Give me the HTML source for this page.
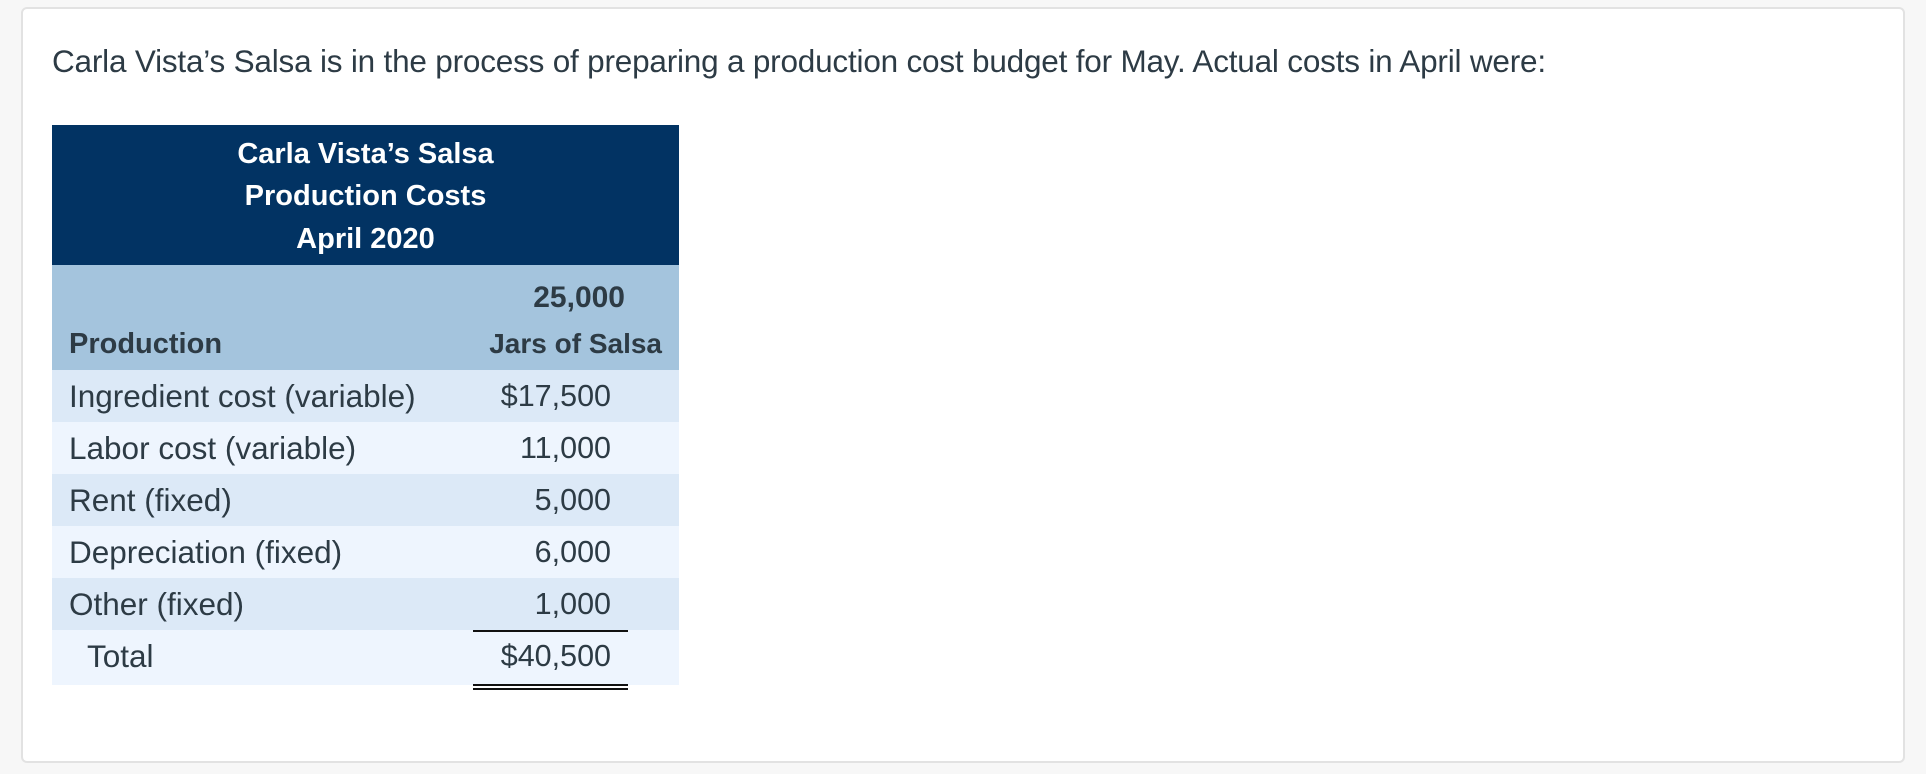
<!DOCTYPE html>
<html><head><meta charset="utf-8"><style>
body{margin:0;width:1926px;height:774px;background:#f7f7f7;font-family:"Liberation Sans",sans-serif;color:#2d3b45;position:relative;overflow:hidden}
.card{position:absolute;left:21px;top:7px;width:1884px;height:756px;background:#fff;border:2px solid #e2e2e2;border-radius:6px;box-sizing:border-box}
.abs{position:absolute;white-space:nowrap}
.title{left:52px;top:43px;font-size:31.5px;line-height:36px;letter-spacing:-0.2px}
.hdr{left:52px;top:125px;width:627px;height:140px;background:#023363}
.hl{width:627px;left:52px;text-align:center;color:#fff;font-weight:bold;font-size:29px;line-height:34px}
.sub{left:52px;top:265px;width:627px;height:105px;background:#a4c4dd}
.row{left:52px;width:627px;height:52px}
.lbl{font-size:31.5px;line-height:34px}
.val{font-size:30.5px;line-height:34px}
.bold{font-weight:bold;color:#2d3b45}
</style></head><body>
<div class="card"></div>
<div class="abs title">Carla Vista’s Salsa is in the process of preparing a production cost budget for May. Actual costs in April were:</div>
<div class="abs hdr"></div>
<div class="abs hl" style="top:137px">Carla Vista’s Salsa</div>
<div class="abs hl" style="top:179px">Production Costs</div>
<div class="abs hl" style="top:222px">April 2020</div>
<div class="abs sub"></div>
<div class="abs lbl bold" style="left:69px;top:327px;font-size:29px">Production</div>
<div class="abs lbl bold" style="right:1301px;top:281px;font-size:30px">25,000</div>
<div class="abs lbl bold" style="right:1264px;top:327px;font-size:28px">Jars of Salsa</div>
<div id="rows"></div>
<div class="abs" style="left:473px;top:630px;width:155px;height:2px;background:#111"></div>
<div class="abs" style="left:473px;top:684px;width:155px;height:2px;background:#111"></div>
<div class="abs" style="left:473px;top:688px;width:155px;height:2px;background:#111"></div>
<script>
const labels=["Ingredient cost (variable)","Labor cost (variable)","Rent (fixed)","Depreciation (fixed)","Other (fixed)","Total"];
const values=["$17,500","11,000","5,000","6,000","1,000","$40,500"];
const tops=[370,422,474,526,578,630];
const c=document.getElementById('rows');
labels.forEach((l,i)=>{
 const r=document.createElement('div');r.className='abs row';r.style.top=tops[i]+'px';r.style.height=(i==5?55:52)+'px';
 r.style.background=i%2==0?'#dce9f7':'#eef5fe';
 
 
 c.appendChild(r);
 const a=document.createElement('div');a.className='abs lbl';a.textContent=l;a.style.left=(i==5?87:69)+'px';a.style.top=(tops[i]+9)+'px';
 
 
 c.appendChild(a);
 const v=document.createElement('div');v.className='abs val';v.textContent=values[i];v.style.right='1315px';v.style.top=(tops[i]+9)+'px';
 
 
 c.appendChild(v);
});
</script>
</body></html>
